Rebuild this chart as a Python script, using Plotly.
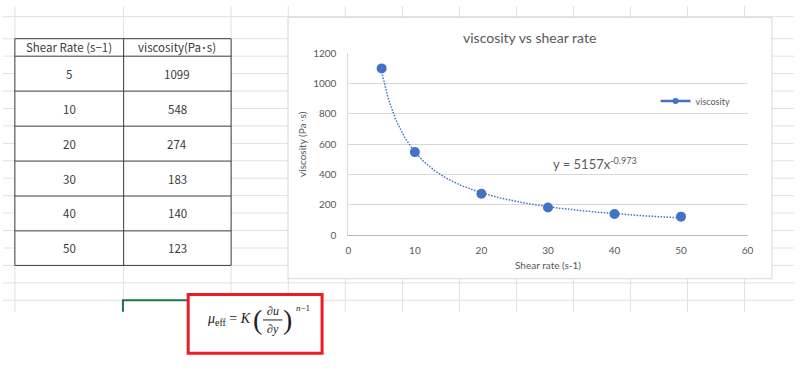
import numpy as np
import plotly.graph_objects as go

# ---------------- data ----------------
table_headers = ["Shear Rate (s−1)", "viscosity(Pa･s)"]
shear_rate = [5, 10, 20, 30, 40, 50]
viscosity = [1099, 548, 274, 183, 140, 123]
fit_K = 5157
fit_exp = -0.973
series_name = "viscosity"
chart_title = "viscosity vs shear rate"
x_title = "Shear rate (s-1)"
y_title = "viscosity (Pa･s)"

W, H = 800, 373


def X(px):
    return px / W


def Y(py):
    return 1 - py / H


BLUE = "#4472C4"
GREY_TXT = "#595959"
CHART_FONT = "Lato"
TABLE_FONT = "Noto Sans CJK JP"
MATH_FONT = "Liberation Serif"

shapes = []
annotations = []


def line(x0, y0, x1, y1, color, width=1):
    shapes.append(dict(type="line", xref="paper", yref="paper", layer="below",
                       x0=X(x0), y0=Y(y0), x1=X(x1), y1=Y(y1),
                       line=dict(color=color, width=width)))


def rect(x0, y0, x1, y1, fill, color=None, width=0):
    shapes.append(dict(type="rect", xref="paper", yref="paper", layer="below",
                       x0=X(x0), y0=Y(y0), x1=X(x1), y1=Y(y1),
                       fillcolor=fill,
                       line=dict(color=color if color else fill, width=width)))


def text(x, y, s, size, color, family, xanchor="center", yanchor="middle", angle=0):
    annotations.append(dict(xref="paper", yref="paper", x=X(x), y=Y(y), text=s,
                            showarrow=False, xanchor=xanchor, yanchor=yanchor,
                            textangle=angle,
                            font=dict(size=size, color=color, family=family)))


# ---------------- spreadsheet grid ----------------
GRID = "#e1e1e1"
grid_bottom = 315
col_lines = [12, 122, 230.7, 288.5, 346.2, 404, 461.7, 519.3, 577, 634.7, 692.3, 750]
row_lines = [11] + [33.7 + 17.97 * k for k in range(16)]
for cx in col_lines:
    line(cx, 0, cx, grid_bottom, GRID, 1)
for ry in row_lines:
    line(0, ry, W, ry, GRID, 1)

# ---------------- table ----------------
col_edges = [12, 122, 230.7]
row_edges = [33.7, 51.7, 87.7, 123.8, 159.8, 195.8, 231.7, 267.3]
rect(col_edges[0], row_edges[0], col_edges[-1], row_edges[-1], "white")
TB = "#3a3a3a"
for ry in row_edges:
    line(col_edges[0], ry, col_edges[-1], ry, TB, 1)
for cx in col_edges:
    line(cx, row_edges[0], cx, row_edges[-1], TB, 1)

rows = [table_headers] + [[str(a), str(b)] for a, b in zip(shear_rate, viscosity)]
for r, vals in enumerate(rows):
    yc = (row_edges[r] + row_edges[r + 1]) / 2
    for c, v in enumerate(vals):
        xc = (col_edges[c] + col_edges[c + 1]) / 2
        text(xc, yc, v, 11.5, "#3a3a3a", TABLE_FONT)

# ---------------- chart box ----------------
rect(288.3, 11.7, 777.7, 281, "white", "#d9d9d9", 1)
text(532.7, 32, chart_title, 14, GREY_TXT, CHART_FONT)
text(551.7, 267, x_title, 10, GREY_TXT, CHART_FONT)
text(302.5, 142, y_title, 10, GREY_TXT, CHART_FONT, angle=-90)
text(554, 162, "y = %d" % fit_K + "x<sup>%s</sup>" % fit_exp,
     13, GREY_TXT, CHART_FONT, xanchor="left")

# ---------------- green selection bracket ----------------
line(121.3, 303.3, 196, 303.3, "#217346", 2)
line(121.3, 302.3, 121.3, 315, "#217346", 2)

# ---------------- formula box ----------------
rect(187.3, 297.3, 322.7, 357.7, "white", "#ED1C24", 3)
MC = "#222222"
text(253, 323.5, "<i>μ</i><sub>eff</sub> = <i>K</i>", 14, MC, MATH_FONT, xanchor="right")
text(257, 323, "(", 28, MC, MATH_FONT)
text(287.5, 323, ")", 28, MC, MATH_FONT)
text(272.7, 314.5, "∂<i>u</i>", 12, MC, MATH_FONT)
text(272.7, 333, "∂<i>y</i>", 12, MC, MATH_FONT)
line(263, 323.5, 282.5, 323.5, MC, 1)
text(294, 311, "<i>n</i>−1", 9, MC, MATH_FONT, xanchor="left")

# ---------------- traces ----------------
trend_x = np.linspace(min(shear_rate), max(shear_rate) - 0.3, 200)
trend_y = fit_K * trend_x ** fit_exp

fig = go.Figure()
fig.add_trace(go.Scatter(x=trend_x, y=trend_y, mode="lines",
                         line=dict(color=BLUE, width=1.5, dash="1.5px,1.5px"),
                         showlegend=False, hoverinfo="skip"))
fig.add_trace(go.Scatter(x=shear_rate, y=viscosity, mode="markers",
                         marker=dict(color=BLUE, size=10),
                         showlegend=False, name=series_name))
fig.add_trace(go.Scatter(x=[None], y=[None], mode="lines+markers", name=series_name,
                         line=dict(color=BLUE, width=2.5),
                         marker=dict(color=BLUE, size=6)))

fig.update_layout(
    width=W, height=H, autosize=False,
    margin=dict(l=0, r=0, t=0, b=0),
    paper_bgcolor="white", plot_bgcolor="rgba(0,0,0,0)",
    shapes=shapes, annotations=annotations,
    showlegend=True,
    legend=dict(x=X(660), y=Y(98), xanchor="left", yanchor="middle",
                bgcolor="rgba(0,0,0,0)", borderwidth=0,
                font=dict(size=9, color=GREY_TXT, family=CHART_FONT),
                itemwidth=30),
    xaxis=dict(domain=[X(349.3), X(753)], range=[0, 60], dtick=10,
               showgrid=False, zeroline=False, showline=True,
               linecolor="#bfbfbf", linewidth=1, ticks="",
               ticklabelstandoff=6,
               tickfont=dict(size=10, color=GREY_TXT, family=CHART_FONT),
               fixedrange=True),
    yaxis=dict(domain=[Y(236.3), Y(48.5)], range=[0, 1200], dtick=200,
               showgrid=True, gridcolor="#d9d9d9", gridwidth=1,
               zeroline=False, showline=True, linecolor="#d9d9d9", linewidth=1,
               ticks="", ticklabelstandoff=9,
               tickfont=dict(size=10, color=GREY_TXT, family=CHART_FONT),
               fixedrange=True),
)

fig.write_html("out.html", config={"displayModeBar": False},
               post_script="document.body.style.margin='0';document.body.style.overflow='hidden';")
